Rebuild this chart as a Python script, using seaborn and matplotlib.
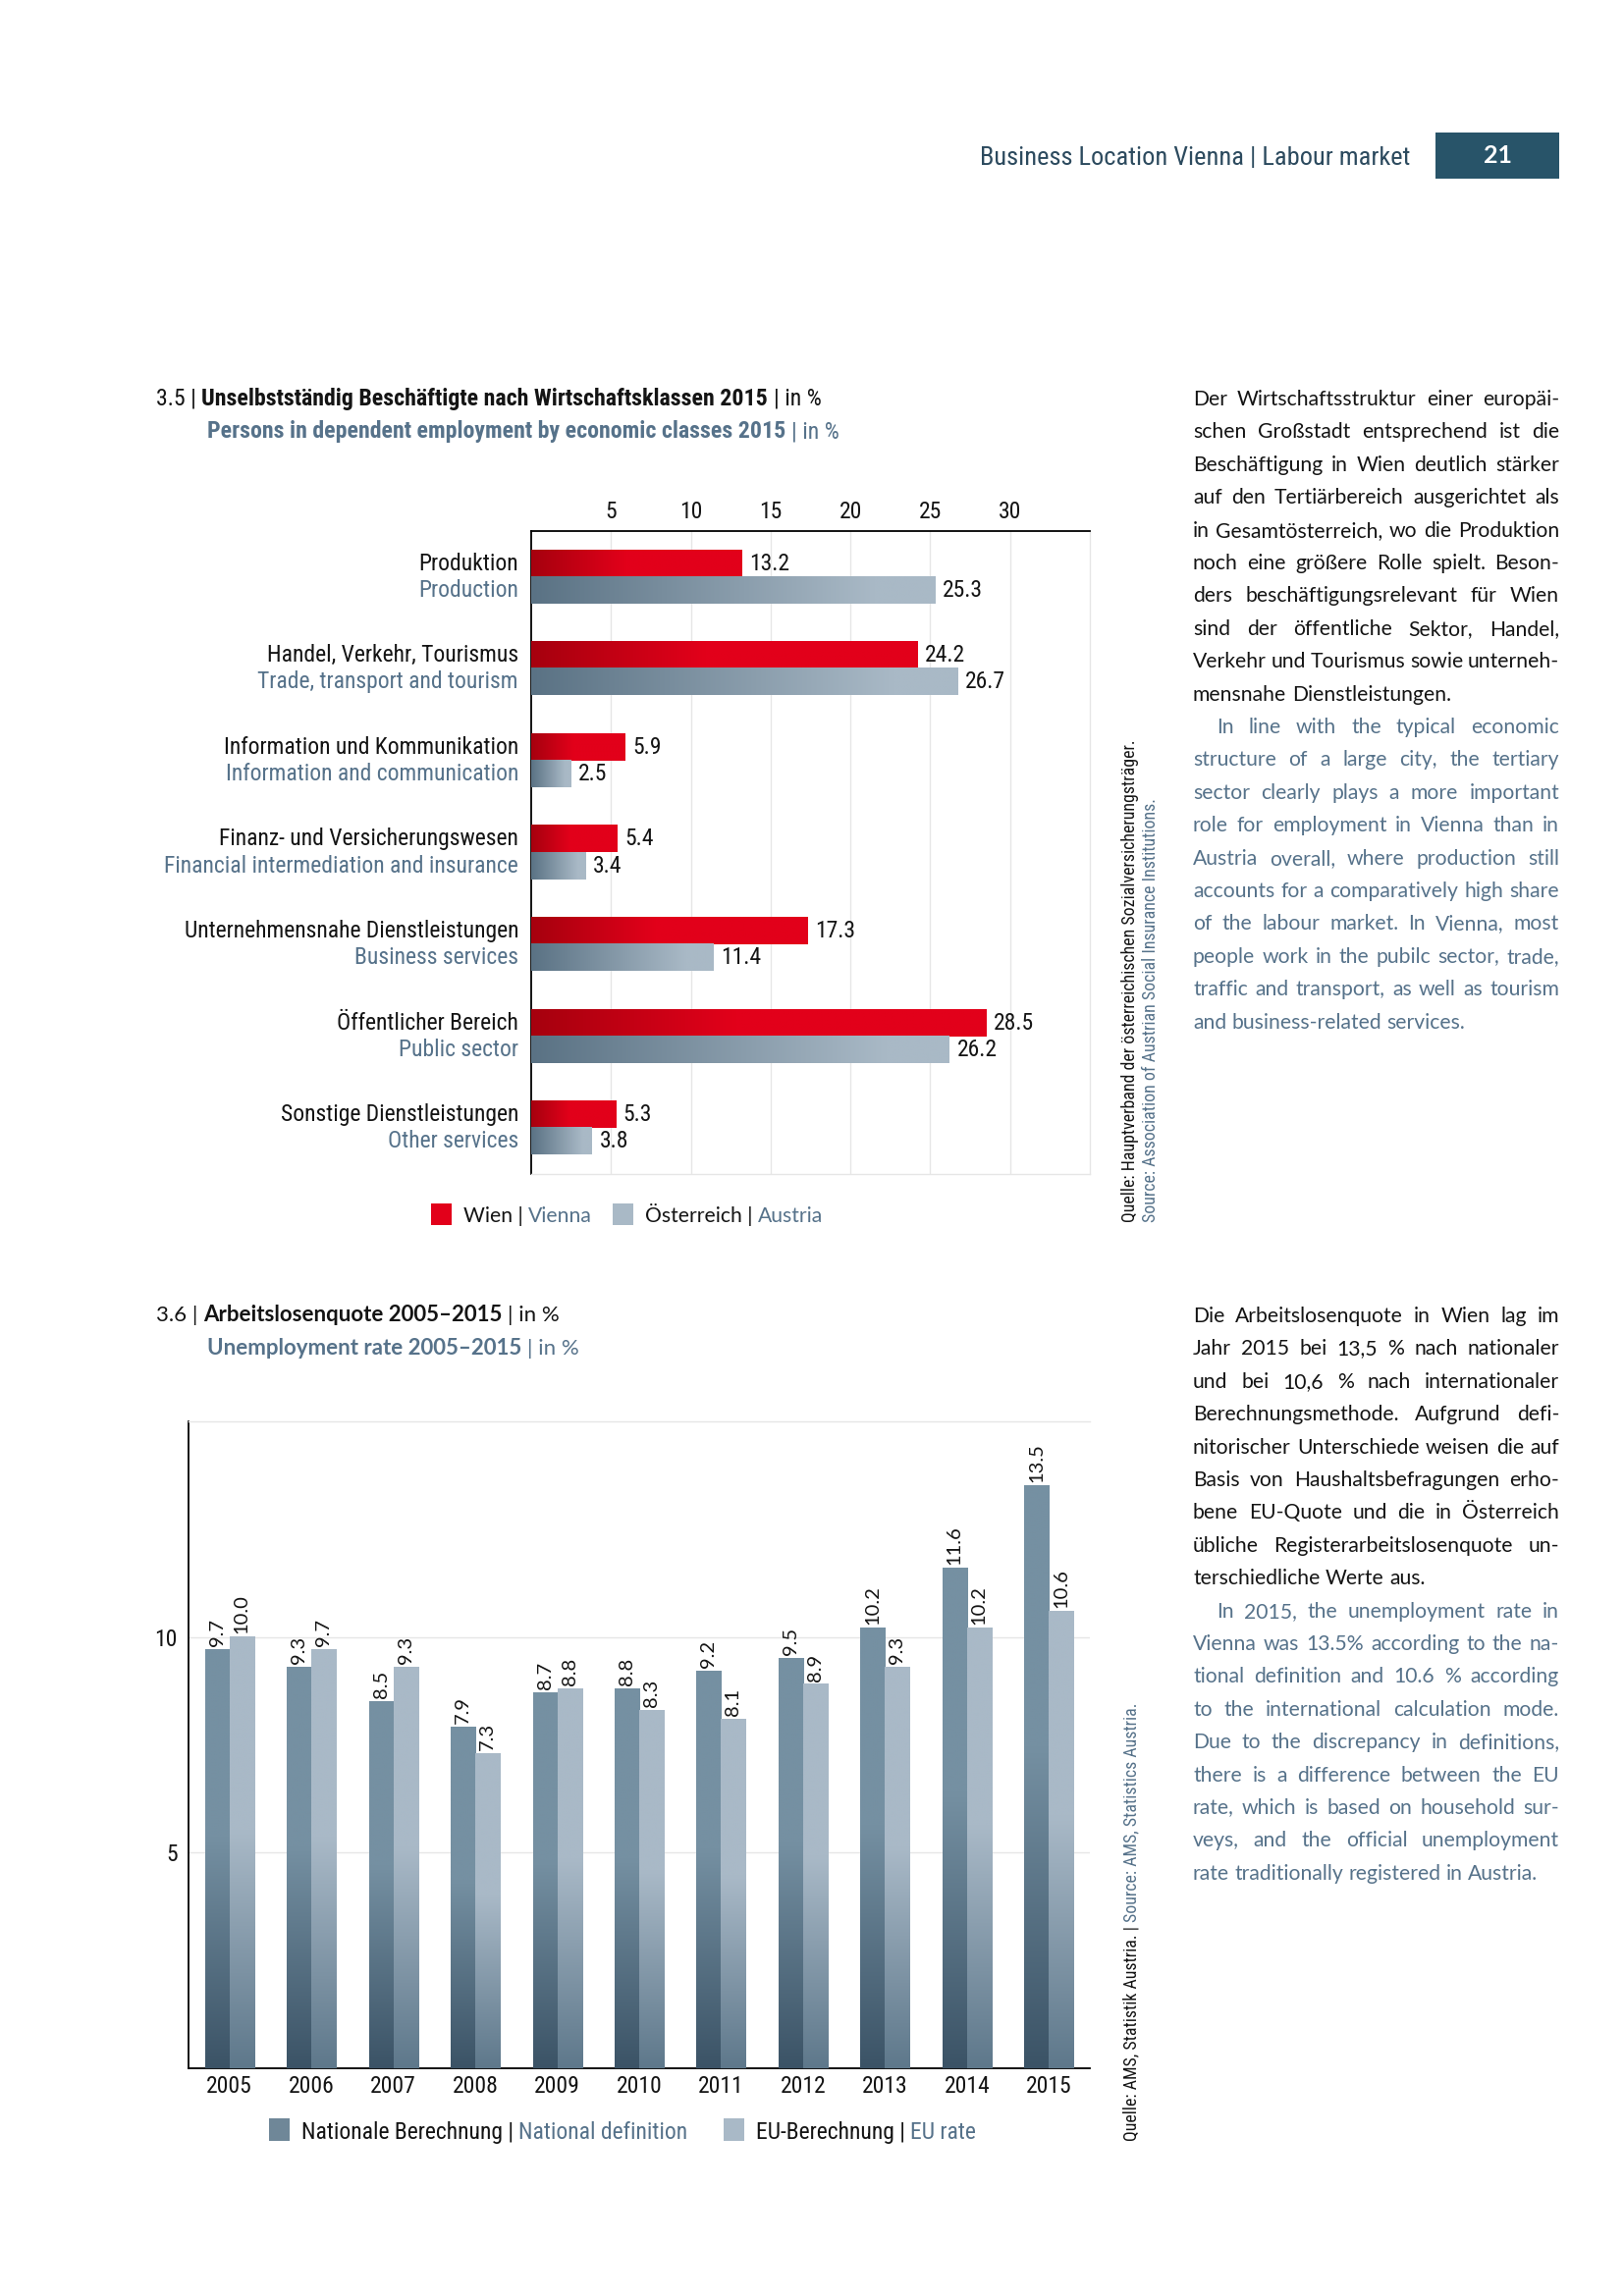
import numpy as np
import pandas as pd
import seaborn as sns
import matplotlib
matplotlib.use('Agg')
import matplotlib.pyplot as plt
from matplotlib.colors import to_rgb
from matplotlib.patches import Rectangle
from matplotlib.transforms import blended_transform_factory

# data - chart 3.5
sectors_de = ['Produktion', 'Handel, Verkehr, Tourismus', 'Information und Kommunikation',
              'Finanz- und Versicherungswesen', 'Unternehmensnahe Dienstleistungen',
              'Öffentlicher Bereich', 'Sonstige Dienstleistungen']
sectors_en = ['Production', 'Trade, transport and tourism', 'Information and communication',
              'Financial intermediation and insurance', 'Business services',
              'Public sector', 'Other services']
wien = [13.2, 24.2, 5.9, 5.4, 17.3, 28.5, 5.3]
oesterreich = [25.3, 26.7, 2.5, 3.4, 11.4, 26.2, 3.8]
regions = ['Wien', 'Österreich']
x_ticks1 = [5, 10, 15, 20, 25, 30]

# data - chart 3.6
years = ['2005', '2006', '2007', '2008', '2009', '2010', '2011', '2012', '2013', '2014', '2015']
national = [9.7, 9.3, 8.5, 7.9, 8.7, 8.8, 9.2, 9.5, 10.2, 11.6, 13.5]
eu_rate = [10.0, 9.7, 9.3, 7.3, 8.8, 8.3, 8.1, 8.9, 9.3, 10.2, 10.6]
methods = ['National', 'EU']
y_ticks2 = [5, 10]

# text blocks
text1_de = ['Der Wirtschaftsstruktur einer europäi-',
            'schen Großstadt entsprechend ist die',
            'Beschäftigung in Wien deutlich stärker',
            'auf den Tertiärbereich ausgerichtet als',
            'in Gesamtösterreich, wo die Produktion',
            'noch eine größere Rolle spielt. Beson-',
            'ders beschäftigungsrelevant für Wien',
            'sind der öffentliche Sektor, Handel,',
            'Verkehr und Tourismus sowie unterneh-',
            'mensnahe Dienstleistungen.']
text1_en = ['In line with the typical economic',
            'structure of a large city, the tertiary',
            'sector clearly plays a more important',
            'role for employment in Vienna than in',
            'Austria overall, where production still',
            'accounts for a comparatively high share',
            'of the labour market. In Vienna, most',
            'people work in the pubilc sector, trade,',
            'traffic and transport, as well as tourism',
            'and business-related services.']
text2_de = ['Die Arbeitslosenquote in Wien lag im',
            'Jahr 2015 bei 13,5 % nach nationaler',
            'und bei 10,6 % nach internationaler',
            'Berechnungsmethode. Aufgrund defi-',
            'nitorischer Unterschiede weisen die auf',
            'Basis von Haushaltsbefragungen erho-',
            'bene EU-Quote und die in Österreich',
            'übliche Registerarbeitslosenquote un-',
            'terschiedliche Werte aus.']
text2_en = ['In 2015, the unemployment rate in',
            'Vienna was 13.5% according to the na-',
            'tional definition and 10.6 % according',
            'to the international calculation mode.',
            'Due to the discrepancy in definitions,',
            'there is a difference between the EU',
            'rate, which is based on household sur-',
            'veys, and the official unemployment',
            'rate traditionally registered in Austria.']

sns.set_style('white')
COND = ['Roboto Condensed', 'Liberation Sans Narrow', 'DejaVu Sans']
BODY = ['Lato', 'DejaVu Sans']
plt.rcParams['font.family'] = COND

BLACK = '#141414'
SLATE = '#56728a'
HEAD = '#2c4a5e'
GRID = '#e6e6e6'
LBL = 17          # chart label size
BODY_SIZE = 15.2

W, H = 1654, 2339
fig = plt.figure(figsize=(W / 100, H / 100), dpi=100)
renderer = fig.canvas.get_renderer()


def put(x, y, s, **kw):
    return fig.text(x / W, 1 - y / H, s, **kw)


def text_width(s, **kw):
    t = put(0, 0, s, **kw)
    w = t.get_window_extent(renderer).width
    t.remove()
    return w


def space_width(**kw):
    return text_width('x x', **kw) - text_width('xx', **kw)


def hrun(x, y, pieces, size, family, align='left'):
    # pieces: (text, color, weight); y is the baseline in pixels from top
    sp = space_width(size=size, family=family)
    widths = [text_width(s, size=size, family=family, weight=wt) for s, c, wt in pieces]
    total = sum(widths) + sp * (len(pieces) - 1)
    if align == 'right':
        x -= total
    for (s, c, wt), w in zip(pieces, widths):
        put(x, y, s, size=size, family=family, weight=wt, color=c, va='baseline', ha='left')
        x += w + sp


def vrun(x, y_bottom, pieces, size, family):
    sp = space_width(size=size, family=family)
    y = y_bottom
    for s, c in pieces:
        t = put(x, y, s, size=size, family=family, color=c, rotation=90, ha='center', va='bottom')
        y -= t.get_window_extent(renderer).height + sp


def justified(x0, x1, y0, lines, color, indent=0, step=33.4, size=BODY_SIZE, family=BODY):
    sp = space_width(size=size, family=family)
    for k, line in enumerate(lines):
        y = y0 + k * step
        left = x0 + (indent if k == 0 else 0)
        words = line.split(' ')
        widths = [text_width(wd, size=size, family=family) for wd in words]
        if k == len(lines) - 1 or len(words) == 1:
            gap = sp
        else:
            gap = max((x1 - left - sum(widths)) / (len(words) - 1), sp * 0.6)
        x = left
        for wd, w in zip(words, widths):
            put(x, y, wd, size=size, family=family, color=color, va='baseline', ha='left')
            x += w + gap


def mix(c0, c1, t):
    c0, c1 = np.array(to_rgb(c0)), np.array(to_rgb(c1))
    return c0[None, :] + (c1 - c0)[None, :] * t[:, None]


# ---------------- header ----------------
hrun(1436, 168, [('Business Location Vienna | Labour market', HEAD, 'normal')], 19, COND, align='right')
fig.add_artist(Rectangle((1462 / W, 1 - 182 / H), 126 / W, 47 / H, transform=fig.transFigure,
                         color='#285469', lw=0))
put(1525, 159, '21', size=18, family=BODY, weight='bold', color='white', ha='center', va='center')

# ---------------- chart 3.5 ----------------
hrun(159, 413, [('3.5 |', BLACK, 'normal'),
                ('Unselbstständig Beschäftigte nach Wirtschaftsklassen 2015', BLACK, 'bold'),
                ('| in %', BLACK, 'normal')], 17.2, COND)
hrun(211, 446, [('Persons in dependent employment by economic classes 2015', SLATE, 'bold'),
                ('| in %', SLATE, 'normal')], 17.2, COND)

df1 = pd.DataFrame({'sector': sectors_de * 2,
                    'region': [regions[0]] * len(wien) + [regions[1]] * len(oesterreich),
                    'value': wien + oesterreich})
ax1 = fig.add_axes([541 / W, 1 - 1196 / H, 569 / W, 655 / H])
sns.barplot(data=df1, y='sector', x='value', hue='region', hue_order=regions, order=sectors_de,
            orient='h', width=0.58, palette=['#e2001a', '#a9b9c6'], saturation=1, linewidth=0,
            legend=False, ax=ax1)

grad1 = [('#a6000e', '#e2001a', 0.45), ('#5a7284', '#a9b9c6', 0.85)]
for cont, (c0, c1, frac) in zip(ax1.containers, grad1):
    for patch in cont:
        x0, y0, w, h = patch.get_x(), patch.get_y(), patch.get_width(), patch.get_height()
        t = np.clip(np.linspace(0, 1, 256) / frac, 0, 1)
        img = mix(c0, c1, t)[None, :, :]
        ax1.imshow(img, extent=(x0, x0 + w, y0 + h, y0), aspect='auto', interpolation='bilinear',
                   zorder=3)
        ax1.annotate(f'{w:.1f}', xy=(x0 + w, y0 + h / 2), xytext=(5.5, 0), textcoords='offset points',
                     va='center', ha='left', size=LBL, color=BLACK, zorder=4)

trans = blended_transform_factory(ax1.transAxes, ax1.transData)
for i, (de, en) in enumerate(zip(sectors_de, sectors_en)):
    ax1.text(-13 / 569, i - 0.145, de, transform=trans, ha='right', va='center', size=LBL, color=BLACK)
    ax1.text(-13 / 569, i + 0.145, en, transform=trans, ha='right', va='center', size=LBL, color=SLATE)

ax1.set_xlim(0, 35)
ax1.set_ylim(6.5, -0.5)
ax1.set_xticks(x_ticks1)
ax1.set_xticklabels([str(v) for v in x_ticks1], size=LBL, color=BLACK)
ax1.xaxis.tick_top()
ax1.tick_params(axis='x', length=0, pad=6)
ax1.set_yticks([])
ax1.set_xlabel('')
ax1.set_ylabel('')
ax1.set_axisbelow(True)
ax1.xaxis.grid(True, color=GRID, lw=1)
for side in ['top', 'left']:
    ax1.spines[side].set_color('black')
    ax1.spines[side].set_linewidth(1.3)
for side in ['bottom', 'right']:
    ax1.spines[side].set_color(GRID)
    ax1.spines[side].set_linewidth(1)

# legend 3.5
fig.add_artist(Rectangle((439 / W, 1 - 1248 / H), 21 / W, 22 / H, transform=fig.transFigure,
                         color='#e2001a', lw=0))
hrun(472, 1245, [('Wien |', BLACK, 'normal'), ('Vienna', SLATE, 'normal')], 15.2, BODY)
fig.add_artist(Rectangle((624 / W, 1 - 1248 / H), 21 / W, 22 / H, transform=fig.transFigure,
                         color='#a9b9c6', lw=0))
hrun(657, 1245, [('Österreich |', BLACK, 'normal'), ('Austria', SLATE, 'normal')], 15.2, BODY)

vrun(1151, 1245, [('Quelle: Hauptverband der österreichischen Sozialversicherungsträger.', BLACK)], 12.9, COND)
vrun(1172, 1245, [('Source: Association of Austrian Social Insurance Institutions.', SLATE)], 12.9, COND)

justified(1215, 1588, 413, text1_de, BLACK)
justified(1215, 1588, 413 + 10 * 33.4, text1_en, SLATE, indent=24)

# ---------------- chart 3.6 ----------------
hrun(159, 1346, [('3.6 |', BLACK, 'normal'), ('Arbeitslosenquote 2005–2015', BLACK, 'bold'),
                 ('| in %', BLACK, 'normal')], 16, BODY)
hrun(211, 1380, [('Unemployment rate 2005–2015', SLATE, 'bold'), ('| in %', SLATE, 'normal')], 16, BODY)

df2 = pd.DataFrame({'year': years * 2,
                    'method': [methods[0]] * len(national) + [methods[1]] * len(eu_rate),
                    'value': national + eu_rate})
ax2 = fig.add_axes([192 / W, 1 - 2107 / H, 918 / W, 659 / H])
sns.barplot(data=df2, x='year', y='value', hue='method', hue_order=methods, order=years,
            width=0.6, palette=['#7590a2', '#a9b9c7'], saturation=1, linewidth=0,
            legend=False, ax=ax2)

grad2 = [('#3b5366', '#7590a2', 0.55), ('#5e788b', '#a9b9c7', 0.55)]
for cont, (c0, c1, frac) in zip(ax2.containers, grad2):
    for patch in cont:
        x0, y0, w, h = patch.get_x(), patch.get_y(), patch.get_width(), patch.get_height()
        t = np.clip(np.linspace(0, 1, 256) / frac, 0, 1)
        img = mix(c0, c1, t)[:, None, :]
        ax2.imshow(img, extent=(x0, x0 + w, y0, y0 + h), origin='lower', aspect='auto',
                   interpolation='bilinear', zorder=3)
        ax2.annotate(f'{h:.1f}', xy=(x0 + w / 2, y0 + h), xytext=(0, 2.5), textcoords='offset points',
                     rotation=90, ha='center', va='bottom', size=14.5, family=BODY, color=BLACK, zorder=4)

ax2.set_xlim(-0.5, 10.5)
ax2.set_ylim(0, 15)
ax2.set_yticks(y_ticks2)
ax2.set_yticklabels([str(v) for v in y_ticks2], size=LBL, color=BLACK)
ax2.set_xticks(range(len(years)))
ax2.set_xticklabels(years, size=LBL, color=BLACK)
ax2.tick_params(axis='both', length=0)
ax2.tick_params(axis='y', pad=8)
ax2.tick_params(axis='x', pad=5)
ax2.set_xlabel('')
ax2.set_ylabel('')
ax2.set_axisbelow(True)
ax2.yaxis.grid(True, color=GRID, lw=1)
for side in ['bottom', 'left']:
    ax2.spines[side].set_color('black')
    ax2.spines[side].set_linewidth(1.3)
ax2.spines['top'].set_color(GRID)
ax2.spines['top'].set_linewidth(1)
ax2.spines['right'].set_visible(False)

# legend 3.6
fig.add_artist(Rectangle((274 / W, 1 - 2181 / H), 21 / W, 23 / H, transform=fig.transFigure,
                         color='#6f8798', lw=0))
hrun(307, 2179, [('Nationale Berechnung |', BLACK, 'normal'), ('National definition', SLATE, 'normal')],
     LBL, COND)
fig.add_artist(Rectangle((737 / W, 1 - 2181 / H), 21 / W, 23 / H, transform=fig.transFigure,
                         color='#a9b9c7', lw=0))
hrun(770, 2179, [('EU-Berechnung |', BLACK, 'normal'), ('EU rate', SLATE, 'normal')], LBL, COND)

vrun(1152, 2181, [('Quelle: AMS, Statistik Austria. |', BLACK), ('Source: AMS, Statistics Austria.', SLATE)],
     12.9, COND)

justified(1215, 1588, 1347, text2_de, BLACK)
justified(1215, 1588, 1347 + 9 * 33.4, text2_en, SLATE, indent=24)

fig.savefig('out.png', dpi=100, facecolor='white')
